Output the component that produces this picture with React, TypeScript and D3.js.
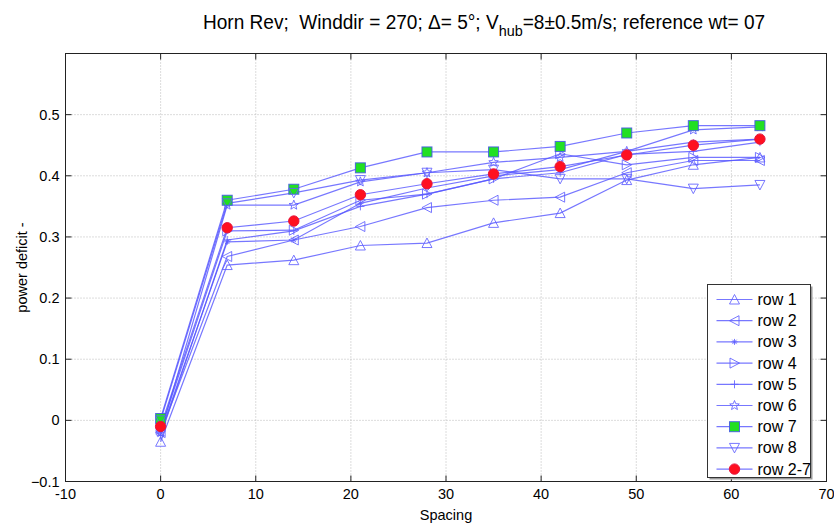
import React from "react";
import * as d3 from "d3";

const spacing = [0, 7, 14, 21, 28, 35, 42, 49, 56, 63];
const seriesNames = ["row 1", "row 2", "row 3", "row 4", "row 5", "row 6", "row 7", "row 8", "row 2-7"];
const row1 = [-0.035, 0.254, 0.262, 0.286, 0.29, 0.323, 0.339, 0.393, 0.418, 0.43];
const row2 = [-0.02, 0.268, 0.295, 0.317, 0.348, 0.36, 0.365, 0.405, 0.425, 0.425];
const row3 = [-0.02, 0.292, 0.295, 0.355, 0.38, 0.4, 0.41, 0.44, 0.455, 0.46];
const row4 = [-0.015, 0.31, 0.311, 0.36, 0.37, 0.395, 0.436, 0.418, 0.43, 0.43];
const row5 = [-0.025, 0.295, 0.31, 0.35, 0.37, 0.395, 0.405, 0.435, 0.44, 0.455];
const row6 = [-0.02, 0.352, 0.352, 0.39, 0.405, 0.422, 0.43, 0.44, 0.475, 0.48];
const row7 = [0.003, 0.36, 0.378, 0.413, 0.439, 0.439, 0.448, 0.47, 0.482, 0.482];
const row8 = [0.0, 0.355, 0.372, 0.393, 0.405, 0.41, 0.395, 0.395, 0.379, 0.385];
const row27 = [-0.01, 0.315, 0.326, 0.369, 0.387, 0.403, 0.415, 0.434, 0.45, 0.46];
const seriesValues = [row1, row2, row3, row4, row5, row6, row7, row8, row27];
const markers = ["triUp", "triLeft", "asterisk", "triRight", "plus", "star", "square", "triDown", "circle"];
const xTicks = [-10, 0, 10, 20, 30, 40, 50, 60, 70];
const yTicks = [-0.1, 0, 0.1, 0.2, 0.3, 0.4, 0.5];

const W = 834, H = 529;
const L = 65.5, R = 826.5, T = 53.5, B = 481.5;
const LINE = "rgba(85,85,255,0.8)";
const MK = "rgba(95,95,255,0.85)";

function Marker({ type, cx, cy }: { type: string; cx: number; cy: number }) {
  const s = 5;
  switch (type) {
    case "triUp":
      return <path d={`M${cx},${cy - s} L${cx + s},${cy + s * 0.9} L${cx - s},${cy + s * 0.9} Z`} fill="none" stroke={MK} strokeWidth={1} />;
    case "triDown":
      return <path d={`M${cx},${cy + s} L${cx + s},${cy - s * 0.9} L${cx - s},${cy - s * 0.9} Z`} fill="none" stroke={MK} strokeWidth={1} />;
    case "triLeft":
      return <path d={`M${cx - s},${cy} L${cx + s * 0.9},${cy - s} L${cx + s * 0.9},${cy + s} Z`} fill="none" stroke={MK} strokeWidth={1} />;
    case "triRight":
      return <path d={`M${cx + s},${cy} L${cx - s * 0.9},${cy - s} L${cx - s * 0.9},${cy + s} Z`} fill="none" stroke={MK} strokeWidth={1} />;
    case "asterisk":
      return <path d={`M${cx - 3},${cy} L${cx + 3},${cy} M${cx},${cy - 3} L${cx},${cy + 3} M${cx - 2.2},${cy - 2.2} L${cx + 2.2},${cy + 2.2} M${cx - 2.2},${cy + 2.2} L${cx + 2.2},${cy - 2.2}`} fill="none" stroke={MK} strokeWidth={1} />;
    case "plus":
      return <path d={`M${cx - 4},${cy} L${cx + 4},${cy} M${cx},${cy - 4} L${cx},${cy + 4}`} fill="none" stroke={MK} strokeWidth={1} />;
    case "star": {
      const pts: string[] = [];
      for (let i = 0; i < 10; i++) {
        const r = i % 2 === 0 ? 5 : 2.2;
        const a = -Math.PI / 2 + (i * Math.PI) / 5;
        pts.push(`${cx + r * Math.cos(a)},${cy + r * Math.sin(a)}`);
      }
      return <polygon points={pts.join(" ")} fill="none" stroke={MK} strokeWidth={1} />;
    }
    case "square":
      return <rect x={cx - 5} y={cy - 5} width={10} height={10} fill="#22e022" stroke="rgba(70,90,230,0.9)" strokeWidth={1} />;
    case "circle":
      return <circle cx={cx} cy={cy} r={5.2} fill="#ff1020" stroke="rgba(230,20,60,1)" strokeWidth={1} />;
  }
  return null;
}

export default function App() {
  const x = d3.scaleLinear().domain([-10, 70]).range([L, R]);
  const y = d3.scaleLinear().domain([-0.1, 0.6]).range([B, T]);
  const line = d3.line<number>().x((_, i) => x(spacing[i])).y((v) => y(v));
  const font = "'Liberation Sans', Arial, sans-serif";
  const legX = 707.5, legY = 284.5, legW = 103, legH = 193;
  return (
    <svg width={W} height={H} style={{ position: "absolute", left: 0, top: 0, background: "#fff" }} fontFamily={font}>
      <rect x={0} y={0} width={W} height={H} fill="#fff" />
      {/* grid */}
      {xTicks.slice(1, -1).map((t) => (
        <line key={"gx" + t} x1={x(t)} x2={x(t)} y1={T} y2={B} stroke="#b8b8b8" strokeWidth={1} strokeDasharray="1,2" />
      ))}
      {yTicks.slice(1).map((t) => (
        <line key={"gy" + t} x1={L} x2={R} y1={y(t)} y2={y(t)} stroke="#b8b8b8" strokeWidth={1} strokeDasharray="1,2" />
      ))}
      {/* frame */}
      <rect x={L} y={T} width={R - L} height={B - T} fill="none" stroke="#222" strokeWidth={1} />
      {xTicks.map((t) => (
        <g key={"tx" + t}>
          <line x1={x(t)} x2={x(t)} y1={B} y2={B - 6} stroke="#222" />
          <line x1={x(t)} x2={x(t)} y1={T} y2={T + 6} stroke="#222" />
          <text x={x(t)} y={B + 17} textAnchor="middle" fontSize={14.5} fill="#000">{t}</text>
        </g>
      ))}
      {yTicks.map((t) => (
        <g key={"ty" + t}>
          <line x1={L} x2={L + 6} y1={y(t)} y2={y(t)} stroke="#222" />
          <line x1={R} x2={R - 6} y1={y(t)} y2={y(t)} stroke="#222" />
          <text x={L - 6} y={y(t) + 5} textAnchor="end" fontSize={14.5} fill="#000">{d3.format("")(+t.toFixed(1))}</text>
        </g>
      ))}
      {/* series */}
      {seriesValues.map((vals, si) => (
        <path key={"l" + si} d={line(vals) || ""} fill="none" stroke={LINE} strokeWidth={1.2} />
      ))}
      {seriesValues.map((vals, si) => (
        <g key={"m" + si}>
          {vals.map((v, i) => (
            <Marker key={i} type={markers[si]} cx={x(spacing[i])} cy={y(v)} />
          ))}
        </g>
      ))}
      {/* legend */}
      <rect x={legX + 2} y={legY + 2} width={legW} height={legH} fill="#999" />
      <rect x={legX} y={legY} width={legW} height={legH} fill="#fff" stroke="#333" strokeWidth={1} />
      {seriesNames.map((n, i) => {
        const ly = legY + 15 + i * 21.2;
        return (
          <g key={"lg" + i}>
            <line x1={legX + 9} x2={legX + 45} y1={ly} y2={ly} stroke={LINE} strokeWidth={1.2} />
            <Marker type={markers[i]} cx={legX + 27} cy={ly} />
            <text x={legX + 50} y={ly + 5.5} fontSize={16} fill="#000">{n}</text>
          </g>
        );
      })}
      {/* labels */}
      <text x={(L + R) / 2} y={520} textAnchor="middle" fontSize={14.5} fill="#000">Spacing</text>
      <text transform={`translate(27,${(T + B) / 2}) rotate(-90)`} textAnchor="middle" fontSize={14.5} fill="#000">power deficit -</text>
      <text transform="translate(203,29) scale(0.93,1)" x={0} y={0} textAnchor="start" fontSize={20.5} fill="#000">
        Horn Rev;{"\u00a0\u00a0"}Winddir = 270; Δ= 5°; V<tspan dy={7} fontSize={15.5}>hub</tspan><tspan dy={-7}>=8±0.5m/s; reference wt= 07</tspan>
      </text>
    </svg>
  );
}
